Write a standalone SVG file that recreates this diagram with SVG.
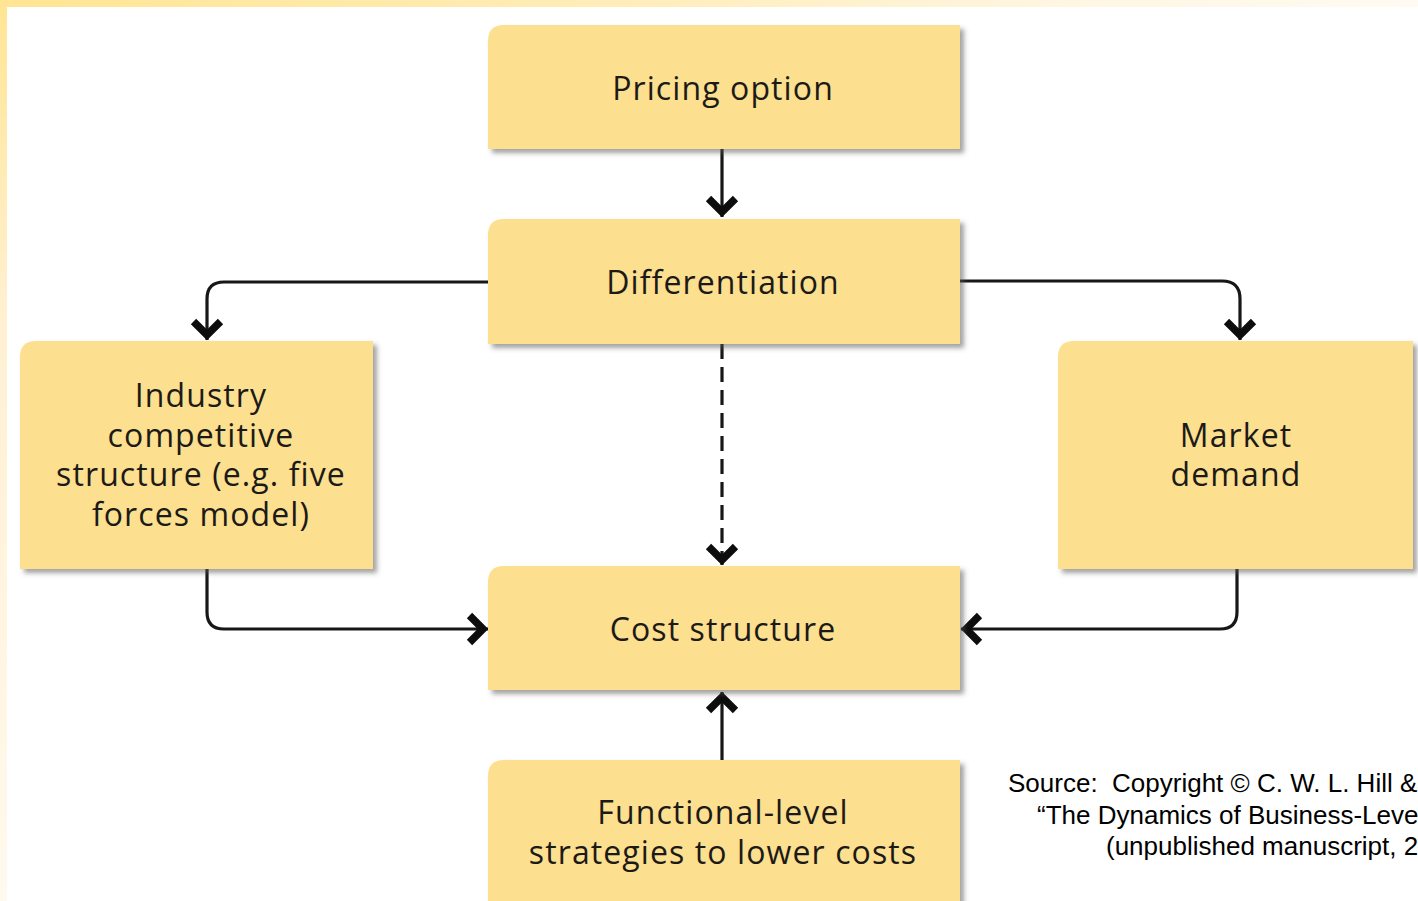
<svg xmlns="http://www.w3.org/2000/svg" width="1418" height="901" viewBox="0 0 1418 901">
  <defs>
    <linearGradient id="frameTop" x1="0" y1="0" x2="1" y2="0">
      <stop offset="0" stop-color="#FFE593"/>
      <stop offset="0.45" stop-color="#FFEDBA"/>
      <stop offset="0.75" stop-color="#FFF6E2"/>
      <stop offset="1" stop-color="#FFFBF2"/>
    </linearGradient>
    <linearGradient id="frameLeft" x1="0" y1="0" x2="0" y2="1">
      <stop offset="0" stop-color="#FFE593"/>
      <stop offset="0.35" stop-color="#FFF0D2"/>
      <stop offset="1" stop-color="#FFF9EE"/>
    </linearGradient>
    <filter id="shadow" x="-10%" y="-10%" width="125%" height="130%">
      <feDropShadow dx="4" dy="4" stdDeviation="2.5" flood-color="#555" flood-opacity="0.55"/>
    </filter>
    <marker id="chevron" viewBox="-24 -20 40 40" markerUnits="userSpaceOnUse" markerWidth="40" markerHeight="40" refX="0" refY="0" orient="auto">
      <path d="M-18.5,-13.5 L-5,0 L-18.5,13.5" fill="none" stroke="#0d0d0d" stroke-width="7.5" stroke-linejoin="miter"/>
    </marker>
    <style>
      .box { fill: #FCDF8F; filter: url(#shadow); }
      .label { font-family: "Open Sans", "Noto Sans", sans-serif; font-size: 32px; fill: #1c1a17; text-anchor: middle; letter-spacing: 1.1px; }
      .wire { fill: none; stroke: #171717; stroke-width: 3.2; marker-end: url(#chevron); }
      .dashed { stroke-dasharray: 15 8; }
      .source { font-family: "Liberation Sans", Arial, sans-serif; font-size: 26px; fill: #000; white-space: pre; }
    </style>
  </defs>

  <!-- page background and frame strips -->
  <rect x="0" y="0" width="1418" height="901" fill="#FFFFFF"/>
  <rect x="0" y="0" width="1418" height="7" fill="url(#frameTop)"/>
  <rect x="0" y="0" width="7" height="901" fill="url(#frameLeft)"/>

  <!-- connectors -->
  <g id="connectors">
    <path class="wire" d="M722,149 V217"/>
    <path class="wire" d="M488,282 H224 Q207,282 207,299 V340"/>
    <path class="wire" d="M960,281 H1222 Q1240,281 1240,299 V340"/>
    <path class="wire dashed" d="M722,344 V565"/>
    <path class="wire" d="M207,569 V612 Q207,629 224,629 H488"/>
    <path class="wire" d="M1237,569 V612 Q1237,629 1220,629 H961"/>
    <path class="wire" d="M722,760 V692"/>
  </g>

  <!-- nodes -->
  <g id="pricing">
    <path class="box" d="M504,25 H960 V149 H488 V41 Q488,25 504,25 Z"/>
    <text class="label" x="723" y="100">Pricing option</text>
  </g>

  <g id="differentiation">
    <path class="box" d="M504,219 H960 V344 H488 V235 Q488,219 504,219 Z"/>
    <text class="label" x="723" y="294">Differentiation</text>
  </g>

  <g id="industry">
    <path class="box" d="M36,341 H373 V569 H20 V357 Q20,341 36,341 Z"/>
    <text class="label" x="201" y="407">Industry</text>
    <text class="label" x="201" y="447">competitive</text>
    <text class="label" x="201" y="486">structure (e.g. five</text>
    <text class="label" x="201" y="526">forces model)</text>
  </g>

  <g id="market">
    <path class="box" d="M1074,341 H1413 V569 H1058 V357 Q1058,341 1074,341 Z"/>
    <text class="label" x="1236" y="447">Market</text>
    <text class="label" x="1236" y="486">demand</text>
  </g>

  <g id="cost">
    <path class="box" d="M504,566 H960 V690 H488 V582 Q488,566 504,566 Z"/>
    <text class="label" x="723" y="641">Cost structure</text>
  </g>

  <g id="functional">
    <path class="box" d="M504,760 H960 V920 H488 V776 Q488,760 504,760 Z"/>
    <text class="label" x="723" y="824">Functional-level</text>
    <text class="label" x="723" y="864">strategies to lower costs</text>
  </g>

  <!-- source note -->
  <g id="source-note">
    <text class="source" x="1008" y="792">Source:  Copyright © C. W. L. Hill &amp;</text>
    <text class="source" x="1037" y="824">“The Dynamics of Business-Level</text>
    <text class="source" x="1106" y="855">(unpublished manuscript, 2</text>
  </g>
</svg>
